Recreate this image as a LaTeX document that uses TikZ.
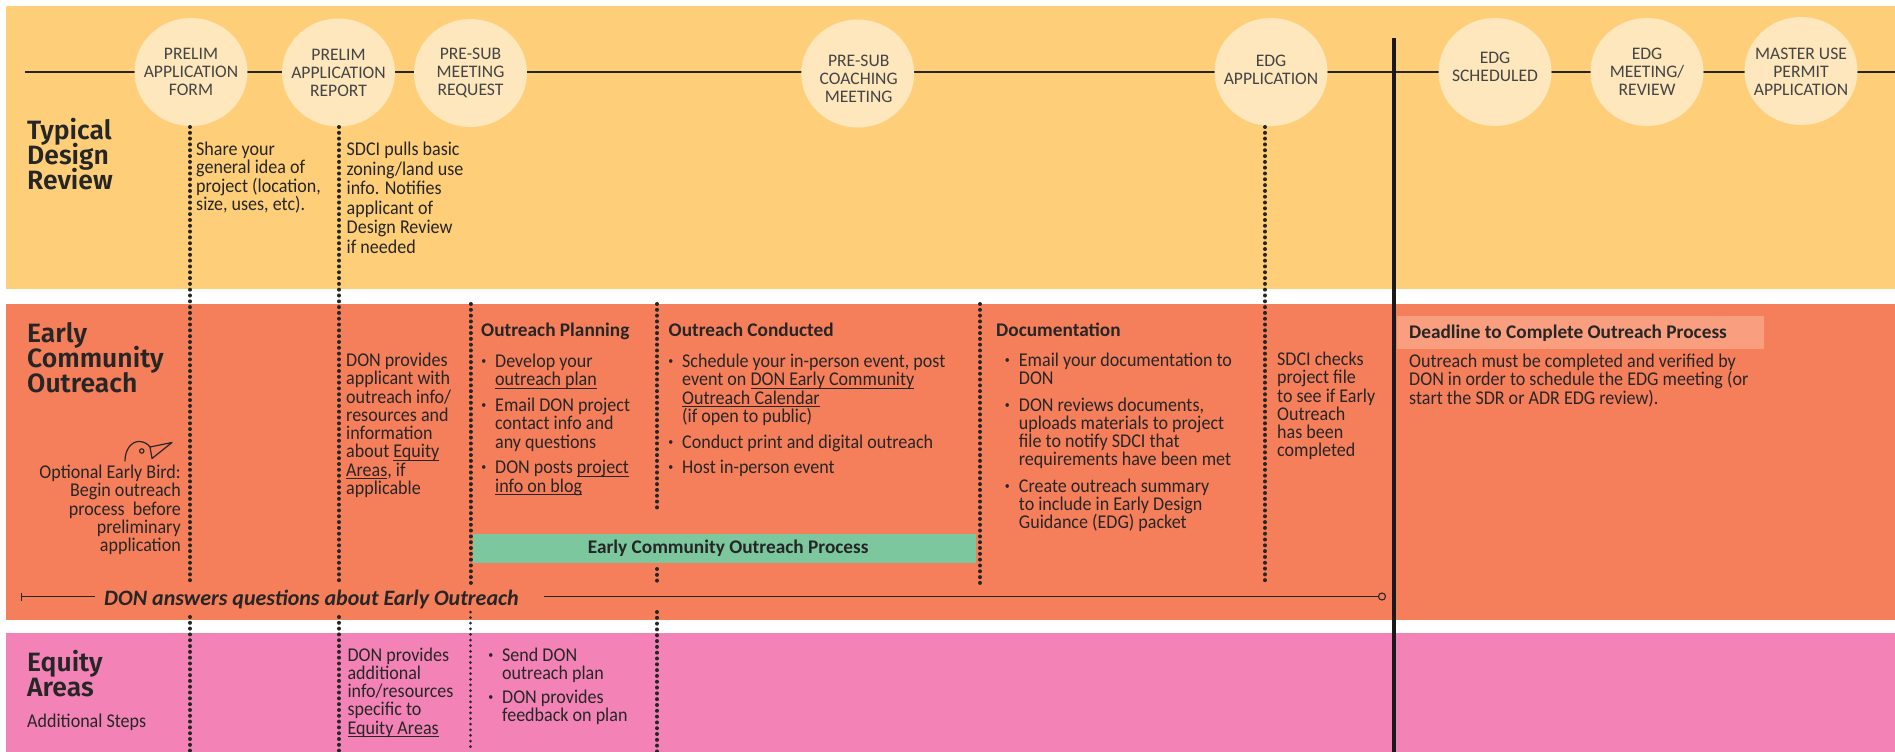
\documentclass[tikz,border=0pt]{standalone}
\usepackage{fontspec}
\usetikzlibrary{shapes.geometric}
\setmainfont{Carlito}
\newfontfamily\bodyfont{Carlito}[FakeStretch=0.925]
\newfontfamily\headfont{Fira Sans}[BoldFont={Fira Sans SemiBold}]
\definecolor{bandY}{HTML}{FECF78}
\definecolor{bandO}{HTML}{F67F5B}
\definecolor{bandP}{HTML}{F383B6}
\definecolor{bandG}{HTML}{7CC79D}
\definecolor{circ}{HTML}{FEE7BC}
\definecolor{dead}{HTML}{F99F80}
\definecolor{ink}{HTML}{262626}
\definecolor{soft}{HTML}{444444}
\newsavebox{\ulbox}
\newcommand{\ul}[1]{\sbox{\ulbox}{#1}\rlap{\rule[-2.6pt]{\wd\ulbox}{0.8pt}}\usebox{\ulbox}}
\newcommand{\bul}{\leavevmode\llap{\raisebox{3pt}{\scalebox{0.55}{•}}\hspace{9pt}}}
\newcommand{\titlefont}{\headfont\fontsize{26.5}{24.7}\selectfont\bfseries}
\tikzset{
  x=1pt,y=-1pt,
  band/.style={fill=#1,draw=none},
  stage/.style={ellipse,fill=circ,draw=none,minimum width=113pt,minimum height=108pt,inner sep=0pt},
  lab/.style={inner sep=0pt,align=center,text=soft,font=\fontsize{17.6}{18}\selectfont},
  dots/.style={draw=ink,line width=4pt,line cap=round,dash pattern=on 0.01pt off 5.8pt},
  fine/.style={draw=ink,line width=3pt,line cap=round,dash pattern=on 0.01pt off 5.6pt},
  rail/.style={draw=ink,line width=1.2pt},
  txt/.style={inner sep=0pt,anchor=north west,align=left,text=ink,
     font=\bodyfont\fontsize{19.5}{18.25}\selectfont,execute at begin node={\lineskiplimit=-30pt\relax\rule{0pt}{15.5pt}}},
  rtxt/.style={txt,anchor=north east,align=right},
  head/.style={inner sep=0pt,anchor=base west,text=ink,font=\fontsize{19.3}{20}\selectfont\bfseries},
  title/.style={inner sep=0pt,anchor=north west,align=left,text=ink,
     font=\titlefont,execute at begin node={\lineskiplimit=-30pt\relax\rule{0pt}{19pt}}},
}
\begin{document}
\begin{tikzpicture}
\useasboundingbox (0,0) rectangle (1895,752);
\fill[white] (0,0) rectangle (1895,752);
% bands
\fill[band=bandY] (6,6) rectangle (1895,289);
\fill[band=bandO] (6,304) rectangle (1895,620);
\fill[band=bandP] (6,633) rectangle (1895,752);
% timeline ends
\coordinate (tlL) at (25,72);
\coordinate (tlR) at (1895,72);
\draw[rail] (tlL) -- (tlR);
% stages
\node[stage,label={[lab]center:{PRELIM\\APPLICATION\\FORM}}] (c1) at (191,72) {};
\node[stage,label={[lab]center:{PRELIM\\APPLICATION\\REPORT}}] (c2) at (338.5,72.5) {};
\node[stage,label={[lab]center:{PRE-SUB\\MEETING\\REQUEST}}] (c3) at (470.5,73) {};
\node[stage,label={[lab,yshift=-5pt,xshift=1pt]center:{PRE-SUB\\COACHING\\MEETING}}] (c4) at (857.7,73.5) {};
\node[stage,label={[lab,yshift=2pt]center:{EDG\\APPLICATION}}] (c5) at (1271,72) {};
\node[stage,label={[lab,yshift=5.5pt]center:{EDG\\SCHEDULED}}] (c6) at (1495,72) {};
\node[stage,label={[lab,yshift=0pt]center:{EDG\\MEETING/\\REVIEW}}] (c7) at (1647,72) {};
\node[stage,label={[lab,yshift=-1pt]center:{MASTER USE\\PERMIT\\APPLICATION}}] (c8) at (1801,71) {};
% green and deadline
\node[band=bandG,inner sep=0pt,minimum width=503pt,minimum height=29pt,anchor=north west,text=ink,
      font=\fontsize{19.3}{20}\selectfont\bfseries] (green) at (473,534) {\hspace{7pt}Early Community Outreach Process};
\node[band=dead,inner sep=0pt,minimum width=367pt,minimum height=33pt,anchor=north west] (deadbox) at (1397,316) {};
% dotted
\coordinate (a1) at (190,127); \coordinate (a2) at (190,584); \coordinate (a3) at (190,617); \coordinate (a4) at (190,752);
\coordinate (b1) at (339,127); \coordinate (b2) at (339,584); \coordinate (b3) at (339,617); \coordinate (b4) at (339,752);
\coordinate (d1) at (470.5,304); \coordinate (d2) at (470.5,584); \coordinate (d3) at (470.5,612); \coordinate (d4) at (470.5,752);
\coordinate (e1) at (657,304); \coordinate (e2) at (657,510); \coordinate (e3) at (657,569); \coordinate (e4) at (657,584);
\coordinate (e5) at (657,612); \coordinate (e6) at (657,752);
\coordinate (f1) at (980,304); \coordinate (f2) at (980,585);
\coordinate (g1) at (1265,127); \coordinate (g2) at (1265,585);
\draw[dots] (a1)--(a2); \draw[dots] (a3)--(a4);
\draw[dots] (b1)--(b2); \draw[dots] (b3)--(b4);
\draw[dots] (d1)--(d2); \draw[fine] (d3)--(d4);
\draw[dots] (e1)--(e2); \draw[dots] (e3)--(e4); \draw[dots] (e5)--(e6);
\draw[dots] (f1)--(f2);
\draw[dots] (g1)--(g2);
% thick deadline rule
\coordinate (k1) at (1394,38); \coordinate (k2) at (1394,752);
\draw[draw=black!90,line width=4.5pt] (k1) -- (k2);
% row titles
\node[title] (t1) at (27,118.5) {Typical\\Design\\Review};
\node[title] (t2) at (27,322.5) {Early\\Community\\Outreach};
\node[title] (t3) at (27,650) {Equity\\Areas};
\node[txt] (addl) at (27,712) {Additional Steps};
% typical row
\node[txt] (n1) at (196,142) {Share your\\general idea of\\project (location,\\size, uses, etc).};
\node[txt,font=\bodyfont\fontsize{19.5}{19.5}\selectfont] (n2) at (346.5,142) {SDCI pulls basic\\zoning/land use\\info. Notifies\\applicant of\\Design Review\\if needed};
% early bird
\draw[ink,line width=1.2pt,line join=round,line cap=round] (125,461) .. controls (125,450) and (131,441.5) .. (139,441.5) .. controls (144,441.5) and (148,444) .. (150,447) -- (172,442.5) -- (152,458.5) -- (150,447);
\draw[ink,line width=1.1pt] (141.8,451) circle (2.2);
\node[rtxt] (n3) at (181,465) {Optional Early Bird:\\Begin outreach\\process\ \ before\\preliminary\\application};
% outreach row
\node[txt] (n4) at (346,353) {DON provides\\applicant with\\outreach info/\\resources and\\information\\about \ul{Equity}\\\ul{Areas}, if\\applicable};
\node[head] (h1) at (481,336) {Outreach Planning};
\node[txt] (n5) at (495,354) {\bul Develop your\\\ul{outreach plan}\\[7.5pt]\bul Email DON project\\contact info and\\any questions\\[7.5pt]\bul DON posts \ul{project}\\\ul{info on blog}};
\node[head] (h2) at (668.5,336) {Outreach Conducted};
\node[txt] (n6) at (682,354) {\bul Schedule your in-person event, post\\event on \ul{DON Early Community}\\\ul{Outreach Calendar}\\(if open to public)\\[7.5pt]\bul Conduct print and digital outreach\\[7pt]\bul Host in-person event};
\node[head] (h3) at (996,336) {Documentation};
\node[txt] (n7) at (1018.7,353) {\bul Email your documentation to\\DON\\[8pt]\bul DON reviews documents,\\uploads materials to project\\file to notify SDCI that\\requirements have been met\\[8pt]\bul Create outreach summary\\to include in Early Design\\Guidance (EDG) packet};
\node[txt] (n8) at (1277,352) {SDCI checks\\project file\\to see if Early\\Outreach\\has been\\completed};
\node[head] (h4) at (1409,338) {Deadline to Complete Outreach Process};
\node[txt] (n9) at (1409,354) {Outreach must be completed and verified by\\DON in order to schedule the EDG meeting (or\\start the SDR or ADR EDG review).};
% answers line
\coordinate (q0a) at (21.5,592.5); \coordinate (q0b) at (21.5,600.5);
\coordinate (q1) at (21.5,596.5); \coordinate (q2) at (95,596.5);
\coordinate (q3) at (544,596.5);
\node[inner sep=0pt,anchor=base west,text=ink,font=\fontsize{22}{22}\selectfont\bfseries\itshape] (ans) at (104,605) {DON answers questions about Early Outreach};
\node[circle,draw=ink,line width=1.1pt,inner sep=0pt,minimum size=7pt] (q4) at (1382,596.5) {};
\draw[rail] (q0a) -- (q0b);
\draw[rail] (q1) -- (q2);
\draw[rail] (q3) -- (q4);
% equity row
\node[txt] (n10) at (347.4,647.5) {DON provides\\additional\\info/resources\\specific to\\\ul{Equity Areas}};
\node[txt] (n11) at (502,647.5) {\bul Send DON\\outreach plan\\[6pt]\bul DON provides\\feedback on plan};
\end{tikzpicture}
\end{document}
